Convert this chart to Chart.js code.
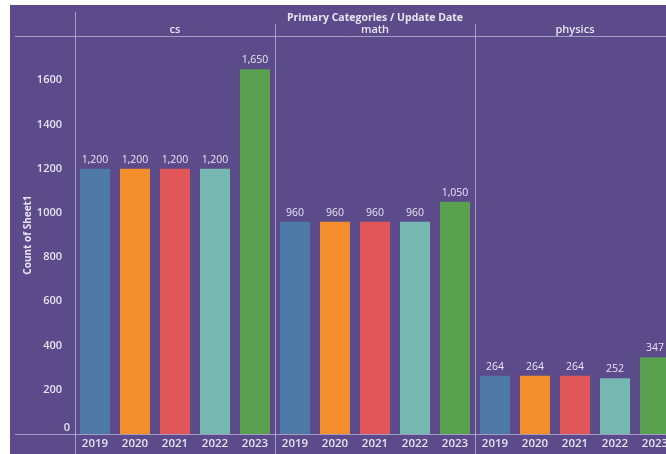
<!DOCTYPE html>
<html>
<head>
<meta charset="utf-8">
<script src="https://cdn.jsdelivr.net/npm/chart.js@4"></script>
<style>
  html, body { margin: 0; padding: 0; background: #fff; overflow: hidden; }
  #wrap { position: absolute; left: 10px; top: 5px; width: 656px; height: 449px; overflow: hidden; background: #5b4b8a; }
  #myChart { display: block; }
</style>
</head>
<body>
<div id="wrap"><canvas id="myChart" width="666" height="449"></canvas></div>
<script>
// data
const panels = ['cs', 'math', 'physics'];
const years = ['2019', '2020', '2021', '2022', '2023'];
const csCounts = [1200, 1200, 1200, 1200, 1650];
const mathCounts = [960, 960, 960, 960, 1050];
const physicsCounts = [264, 264, 264, 252, 347];
const yearColors = ['#4e79a7', '#f28e2b', '#e15759', '#76b7b2', '#59a14f'];

// one bar per panel/year
const labels = [];
const values = [];
const colors = [];
[csCounts, mathCounts, physicsCounts].forEach(function (arr) {
    arr.forEach(function (v, i) {
        labels.push(years[i]);
        values.push(v);
        colors.push(yearColors[i]);
    });
});

const textColor = '#e8e4f2';
const lineColor = 'rgba(205,200,228,0.65)';
const fontFam = '"Open Sans", "DejaVu Sans", sans-serif';

// panel headers, separators, title and value labels
const decorations = {
    id: 'decorations',
    afterDraw: function (chart) {
        const c = chart.ctx;
        const area = chart.chartArea;
        const xs = chart.scales.x;
        const ys = chart.scales.y;
        const H = chart.height;
        c.save();
        c.strokeStyle = lineColor;
        c.lineWidth = 1;
        c.beginPath();
        // header line and bottom axis line
        c.moveTo(5, Math.round(area.top) + 0.5);
        c.lineTo(chart.width, Math.round(area.top) + 0.5);
        c.moveTo(5, Math.round(area.bottom) + 0.5);
        c.lineTo(chart.width, Math.round(area.bottom) + 0.5);
        // y axis line
        c.moveTo(Math.round(area.left) + 0.5, 7);
        c.lineTo(Math.round(area.left) + 0.5, H);
        // panel separators
        for (let p = 1; p < panels.length; p++) {
            const x = (xs.getPixelForValue(p * 5 - 1) + xs.getPixelForValue(p * 5)) / 2;
            c.moveTo(Math.round(x) + 0.5, 19);
            c.lineTo(Math.round(x) + 0.5, H);
        }
        c.stroke();

        // title
        c.fillStyle = textColor;
        c.textAlign = 'center';
        c.textBaseline = 'middle';
        c.font = 'bold 10.5px ' + fontFam;
        c.fillText('Primary Categories / Update Date', (area.left + area.right) / 2, 13);

        // panel names
        c.font = '600 11px ' + fontFam;
        panels.forEach(function (name, p) {
            c.fillText(name, xs.getPixelForValue(p * 5 + 2), 25);
        });

        // zero tick sits just above the axis line, like the original
        c.textAlign = 'right';
        c.fillText('0', area.left - 5, ys.getPixelForValue(0) - 6);

        // value labels above bars
        c.textAlign = 'center';
        c.font = '10.5px ' + fontFam;
        const meta = chart.getDatasetMeta(0);
        meta.data.forEach(function (bar, i) {
            c.fillText(values[i].toLocaleString('en-US'), bar.x, bar.y - 9);
        });
        c.restore();
    }
};

const ctx = document.getElementById('myChart').getContext('2d');
const myChart = new Chart(ctx, {
    type: 'bar',
    data: {
        labels: labels,
        datasets: [{
            label: 'Count of Sheet1',
            data: values,
            backgroundColor: colors,
            borderWidth: 0,
            categoryPercentage: 1,
            barPercentage: 0.75
        }]
    },
    options: {
        responsive: false,
        animation: false,
        devicePixelRatio: 1,
        layout: { padding: { top: 31, right: 1, left: 0, bottom: 0 } },
        plugins: {
            legend: { display: false },
            tooltip: { enabled: false }
        },
        scales: {
            x: {
                grid: { display: false, drawTicks: false },
                border: { display: false },
                ticks: {
                    color: textColor,
                    font: { family: fontFam, size: 11.5, weight: '600' },
                    autoSkip: false,
                    maxRotation: 0,
                    padding: 3
                },
                afterFit: function (s) { s.height = 20; }
            },
            y: {
                min: 0,
                max: 1800,
                grid: { display: false },
                border: { display: false },
                ticks: {
                    stepSize: 200,
                    color: textColor,
                    font: { family: fontFam, size: 11, weight: '600' },
                    padding: 5,
                    callback: function (v) { return (v >= 1800 || v === 0) ? '' : String(v); }
                },
                title: {
                    display: true,
                    text: 'Count of Sheet1',
                    color: textColor,
                    font: { family: fontFam, size: 10, weight: 'bold' },
                    padding: { top: 12, bottom: 0 }
                },
                afterFit: function (s) { s.width = 65; }
            }
        }
    },
    plugins: [decorations]
});
</script>
</body>
</html>
